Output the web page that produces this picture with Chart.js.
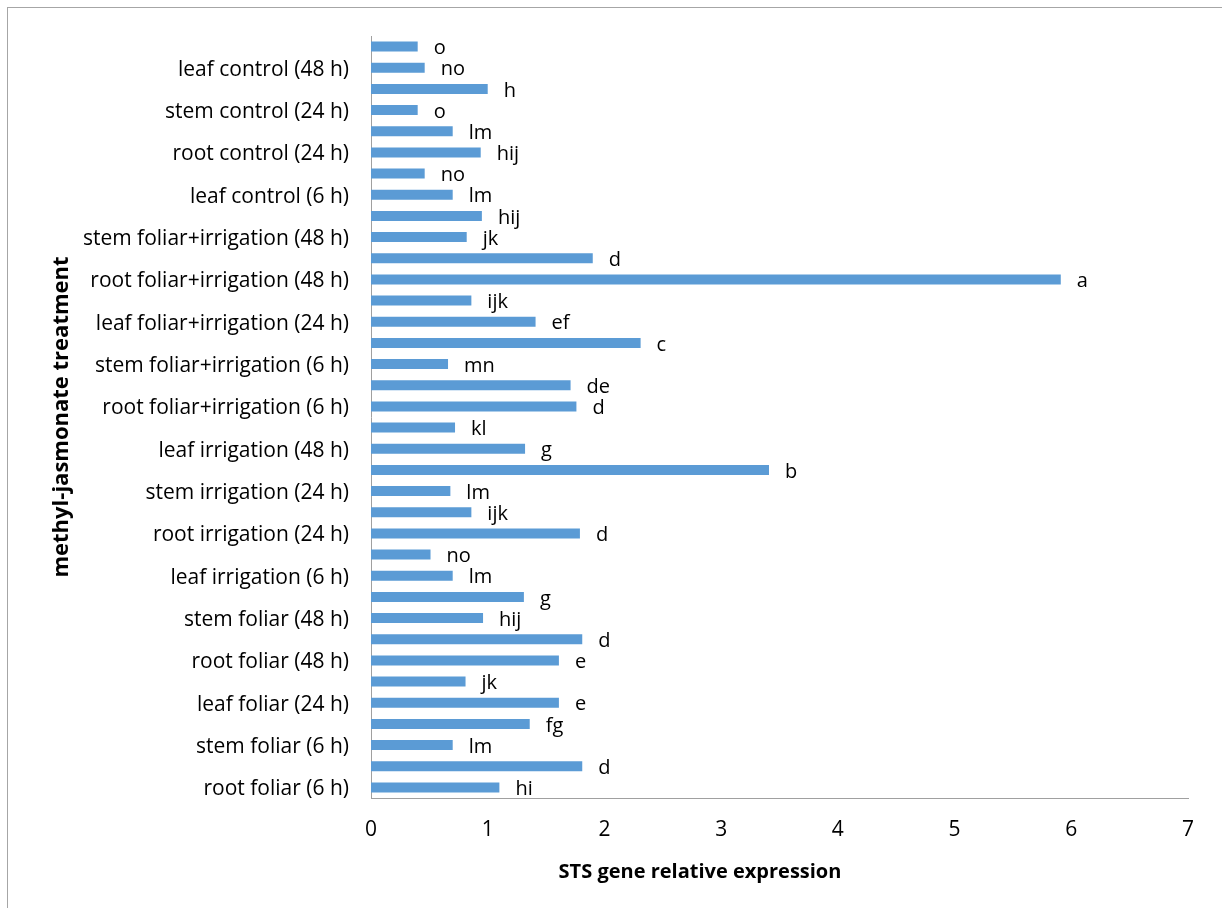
<!DOCTYPE html>
<html>
<head>
<meta charset="utf-8">
<script src="https://cdn.jsdelivr.net/npm/chart.js@4.4.1/dist/chart.umd.min.js"></script>
<style>
  html, body { margin: 0; padding: 0; background: #fff; }
  #wrap { position: relative; width: 1222px; height: 908px; overflow: hidden; }
  #frame { position: absolute; left: 7px; top: 7px; width: 1240px; height: 920px; border: 1px solid #a6a6a6; }
  #chart { position: absolute; left: 0; top: 0; }
</style>
</head>
<body>
<div id="wrap">
  <div id="frame"></div>
  <canvas id="chart" width="1222" height="908"></canvas>
</div>
<script>
// bottom to top, as in the original figure
const categories = [
  'root foliar (6 h)', 'leaf foliar (6 h)', 'stem foliar (6 h)',
  'root foliar (24 h)', 'leaf foliar (24 h)', 'stem foliar (24 h)',
  'root foliar (48 h)', 'leaf foliar (48 h)', 'stem foliar (48 h)',
  'root irrigation (6 h)', 'leaf irrigation (6 h)', 'stem irrigation (6 h)',
  'root irrigation (24 h)', 'leaf irrigation (24 h)', 'stem irrigation (24 h)',
  'root irrigation (48 h)', 'leaf irrigation (48 h)', 'stem irrigation (48 h)',
  'root foliar+irrigation (6 h)', 'leaf foliar+irrigation (6 h)', 'stem foliar+irrigation (6 h)',
  'root foliar+irrigation (24 h)', 'leaf foliar+irrigation (24 h)', 'stem foliar+irrigation (24 h)',
  'root foliar+irrigation (48 h)', 'leaf foliar+irrigation (48 h)', 'stem foliar+irrigation (48 h)',
  'root control (6 h)', 'leaf control (6 h)', 'stem control (6 h)',
  'root control (24 h)', 'leaf control (24 h)', 'stem control (24 h)',
  'root control (48 h)', 'leaf control (48 h)', 'stem control (48 h)'
];

const expression = [
  1.10, 1.81, 0.70,
  1.36, 1.61, 0.81,
  1.61, 1.81, 0.96,
  1.31, 0.70, 0.51,
  1.79, 0.86, 0.68,
  3.41, 1.32, 0.72,
  1.76, 1.71, 0.66,
  2.31, 1.41, 0.86,
  5.91, 1.90, 0.82,
  0.95, 0.70, 0.46,
  0.94, 0.70, 0.40,
  1.00, 0.46, 0.40
];

const letters = [
  'hi', 'd', 'lm',
  'fg', 'e', 'jk',
  'e', 'd', 'hij',
  'g', 'lm', 'no',
  'd', 'ijk', 'lm',
  'b', 'g', 'kl',
  'd', 'de', 'mn',
  'c', 'ef', 'ijk',
  'a', 'd', 'jk',
  'hij', 'lm', 'no',
  'hij', 'lm', 'o',
  'h', 'no', 'o'
];

const xMin = 0, xMax = 7, xStep = 1;
const xTitle = 'STS gene relative expression';
const yTitle = 'methyl-jasmonate treatment';

const FONT = '"Open Sans", "Noto Sans", sans-serif';

const lettersPlugin = {
  id: 'letters',
  afterDatasetsDraw(chart) {
    const ctx = chart.ctx;
    const meta = chart.getDatasetMeta(0);
    ctx.save();
    ctx.font = '20px ' + FONT;
    ctx.fillStyle = '#000';
    ctx.textAlign = 'left';
    ctx.textBaseline = 'middle';
    meta.data.forEach((bar, i) => {
      ctx.fillText(letters[i], bar.x + 16, bar.y + 2);
    });
    ctx.restore();
  }
};

const titlesPlugin = {
  id: 'titles',
  afterDraw(chart) {
    const ctx = chart.ctx;
    const area = chart.chartArea;
    ctx.save();
    ctx.fillStyle = '#000';
    ctx.textAlign = 'center';
    ctx.textBaseline = 'middle';
    ctx.font = 'bold 20px ' + FONT;
    ctx.fillText(xTitle, 700, 872);
    ctx.translate(62, (area.top + area.bottom) / 2);
    ctx.rotate(-Math.PI / 2);
    ctx.font = 'bold 22px ' + FONT;
    ctx.fillText(yTitle, 0, 0);
    ctx.restore();
  }
};

new Chart(document.getElementById('chart'), {
  type: 'bar',
  data: {
    labels: categories,
    datasets: [{
      data: expression,
      backgroundColor: '#5B9BD5',
      borderWidth: 0,
      categoryPercentage: 1,
      barPercentage: 0.47
    }]
  },
  options: {
    indexAxis: 'y',
    responsive: false,
    animation: false,
    layout: { padding: { top: 36, right: 34, left: 0, bottom: 0 } },
    plugins: { legend: { display: false }, tooltip: { enabled: false } },
    scales: {
      x: {
        min: xMin,
        max: xMax,
        ticks: { stepSize: xStep, color: '#000', font: { family: FONT, size: 21 }, padding: 19, maxRotation: 0 },
        grid: { display: false, drawTicks: false },
        border: { display: true, color: '#a0a0a0', width: 1 },
        afterFit: s => { s.height = 110; }
      },
      y: {
        reverse: true,
        ticks: {
          autoSkip: false,
          color: '#000',
          font: { family: FONT, size: 21 },
          padding: 22,
          labelOffset: 2,
          callback: function(v, i) { return i % 2 === 0 ? this.getLabelForValue(v) : ''; }
        },
        grid: { display: false, drawTicks: false },
        border: { display: true, color: '#a0a0a0', width: 1 },
        afterFit: s => { s.width = 371; }
      }
    }
  },
  plugins: [lettersPlugin, titlesPlugin]
});
</script>
</body>
</html>
